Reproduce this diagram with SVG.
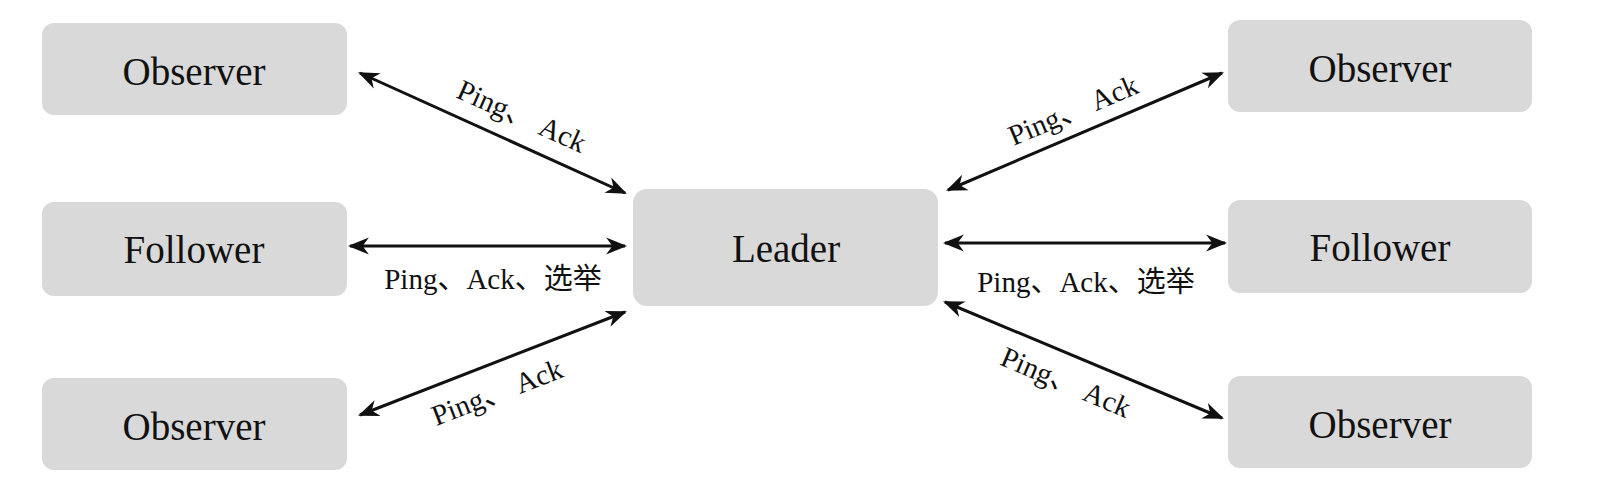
<svg xmlns="http://www.w3.org/2000/svg" width="1612" height="498" viewBox="0 0 1612 498">
<style>
.n{fill:#d9d9d9}
.t{font-family:"Liberation Serif","Noto Sans CJK SC",serif;font-size:39px;fill:#111;text-anchor:middle;dominant-baseline:central}
.l{font-family:"Liberation Serif","Noto Sans CJK SC",serif;font-size:29px;fill:#111;text-anchor:middle;dominant-baseline:central}
.c{stroke:#111;stroke-width:3;fill:none;marker-start:url(#a);marker-end:url(#a)}
</style>
<defs><marker id="a" viewBox="0 0 10 10" refX="9" refY="5" markerWidth="7" markerHeight="7" orient="auto-start-reverse" markerUnits="strokeWidth"><path d="M0,1 L10,5 L0,9 L3,5 z" fill="#111"/></marker></defs>
<rect width="1612" height="498" fill="#fff"/>
<g id="obs-tl"><rect class="n" x="42" y="23" width="305" height="92" rx="12"/><text class="t" x="194" y="71">Observer</text></g>
<g id="fol-l"><rect class="n" x="42" y="202" width="305" height="94" rx="12"/><text class="t" x="194" y="249">Follower</text></g>
<g id="obs-bl"><rect class="n" x="42" y="378" width="305" height="92" rx="12"/><text class="t" x="194" y="426">Observer</text></g>
<g id="leader"><rect class="n" x="633" y="189" width="305" height="117" rx="14"/><text class="t" x="786" y="248">Leader</text></g>
<g id="obs-tr"><rect class="n" x="1228" y="20" width="304" height="92" rx="12"/><text class="t" x="1380" y="68">Observer</text></g>
<g id="fol-r"><rect class="n" x="1228" y="200" width="304" height="93" rx="12"/><text class="t" x="1380" y="247">Follower</text></g>
<g id="obs-br"><rect class="n" x="1228" y="376" width="304" height="92" rx="12"/><text class="t" x="1380" y="424">Observer</text></g>
<g id="connectors">
<line class="c" x1="360" y1="73" x2="625" y2="193"/>
<line class="c" x1="350" y1="246" x2="625" y2="246"/>
<line class="c" x1="360" y1="415" x2="625" y2="312"/>
<line class="c" x1="948" y1="190" x2="1222" y2="73"/>
<line class="c" x1="945" y1="243" x2="1225" y2="243"/>
<line class="c" x1="945" y1="302" x2="1222" y2="418"/>
<text class="l" transform="translate(522,116) rotate(24)">Ping、 Ack</text>
<text class="l" x="493" y="279">Ping、Ack、选举</text>
<text class="l" transform="translate(497,392) rotate(-21)">Ping、 Ack</text>
<text class="l" transform="translate(1073,110) rotate(-23)">Ping、 Ack</text>
<text class="l" x="1086" y="282">Ping、Ack、选举</text>
<text class="l" transform="translate(1066,382) rotate(23)">Ping、 Ack</text>
</g>
</svg>
